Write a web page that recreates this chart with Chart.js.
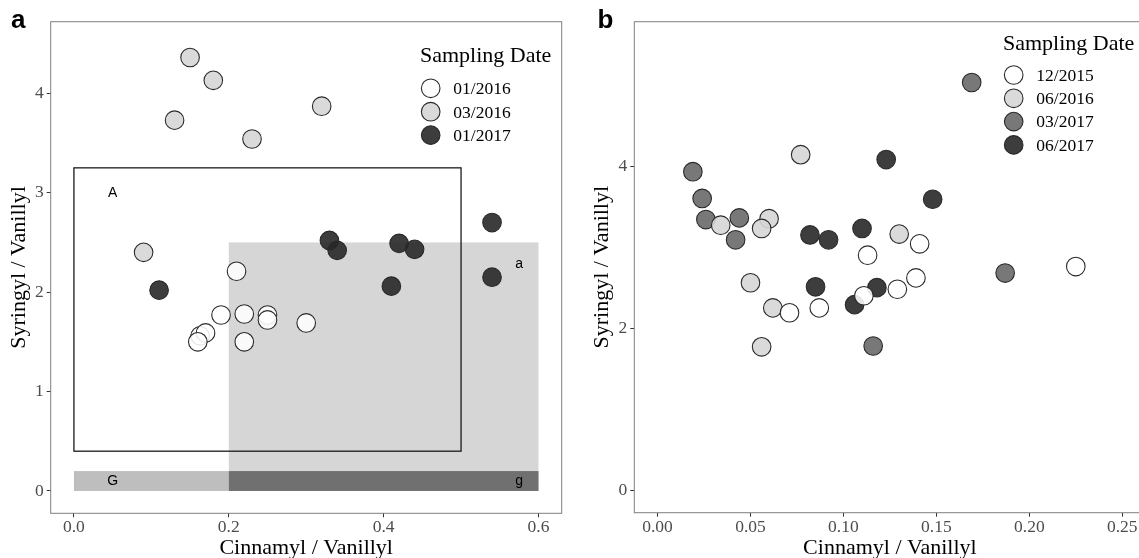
<!DOCTYPE html>
<html>
<head>
<meta charset="utf-8">
<script src="https://cdn.jsdelivr.net/npm/chart.js@4.4.0/dist/chart.umd.min.js"></script>
<style>
  html, body { margin: 0; padding: 0; background: #fff; overflow: hidden; width: 1139px; height: 558px; }
  #chartA { position: absolute; left: 0; top: 0; }
  #chartB { position: absolute; left: 575px; top: 0; }
</style>
</head>
<body>
<canvas id="chartA" width="575" height="558"></canvas>
<canvas id="chartB" width="590" height="558"></canvas>
<script>
// --- Data: panel a ---
const datesA = ['01/2016', '03/2016', '01/2017'];
const a_jan16_x = [0.21, 0.19, 0.22, 0.25, 0.25, 0.30, 0.163, 0.17, 0.16, 0.22];
const a_jan16_y = [2.21, 1.77, 1.78, 1.77, 1.72, 1.69, 1.56, 1.59, 1.50, 1.50];
const a_mar16_x = [0.15, 0.18, 0.13, 0.23, 0.32, 0.09];
const a_mar16_y = [4.36, 4.13, 3.73, 3.54, 3.87, 2.40];
const a_jan17_x = [0.33, 0.34, 0.42, 0.44, 0.54, 0.54, 0.41, 0.11];
const a_jan17_y = [2.52, 2.42, 2.49, 2.43, 2.70, 2.15, 2.06, 2.02];
const xTicksA = [0, 0.2, 0.4, 0.6];
const yTicksA = [0, 1, 2, 3, 4];

// annotation boxes of panel a (data units)
const boxOutlineA = [0, 0.5, 0.4, 3.25];      // x0, x1, y0, y1
const boxShadeA = [0.2, 0.6, 0, 2.5];
const stripLowA = [0, 0.2, 0, 0.2];
const stripHighA = [0.2, 0.6, 0, 0.2];
const labelTextA = ['A', 'a', 'G', 'g'];
const labelXA = [0.05, 0.575, 0.05, 0.575];
const labelYA = [3.0, 2.28, 0.1, 0.1];

// --- Data: panel b ---
const datesB = ['12/2015', '06/2016', '03/2017', '06/2017'];
const b_dec15_x = [0.113, 0.141, 0.225, 0.139, 0.129, 0.111, 0.071, 0.087];
const b_dec15_y = [2.90, 3.04, 2.76, 2.62, 2.48, 2.40, 2.19, 2.25];
const b_jun16_x = [0.077, 0.034, 0.060, 0.056, 0.130, 0.050, 0.062, 0.056];
const b_jun16_y = [4.14, 3.27, 3.35, 3.23, 3.16, 2.56, 2.25, 1.77];
const b_mar17_x = [0.169, 0.019, 0.024, 0.026, 0.044, 0.042, 0.187, 0.116];
const b_mar17_y = [5.03, 3.93, 3.60, 3.34, 3.36, 3.09, 2.68, 1.78];
const b_jun17_x = [0.123, 0.148, 0.082, 0.092, 0.110, 0.085, 0.118, 0.106];
const b_jun17_y = [4.08, 3.59, 3.15, 3.09, 3.23, 2.51, 2.50, 2.29];
const xTicksB = [0, 0.05, 0.10, 0.15, 0.20, 0.25];
const yTicksB = [0, 2, 4];

// --- Styles ---
const FILL_WHITE = 'rgba(255,255,255,0.88)';
const FILL_LIGHT = 'rgba(214,214,214,0.9)';
const FILL_MID = 'rgba(105,105,105,0.9)';
const FILL_DARK = 'rgba(40,40,40,0.9)';
const POINT_EDGE = '#2a2a2a';
const SERIF = '"Liberation Serif", "Times New Roman", serif';
const SANS = '"Liberation Sans", Arial, sans-serif';

function toPoints(xs, ys) {
    return xs.map((x, i) => ({ x: x, y: ys[i] }));
}

function series(label, xs, ys, fill) {
    return {
        label: label,
        data: toPoints(xs, ys),
        backgroundColor: fill,
        borderColor: POINT_EDGE,
        borderWidth: 1.1,
        pointRadius: 9.3,
        pointHoverRadius: 9.3
    };
}

function scaleCfg(min, max, tickValues, fmt, fixedSize, isX) {
    return {
        type: 'linear',
        min: min,
        max: max,
        afterBuildTicks: s => { s.ticks = tickValues.map(v => ({ value: v })); },
        afterFit: s => { if (isX) s.height = fixedSize; else s.width = fixedSize; },
        ticks: {
            callback: v => fmt(v),
            font: { family: SERIF, size: 17.5 },
            color: '#4d4d4d',
            padding: isX ? 0 : 3,
            maxRotation: 0,
            autoSkip: false
        },
        grid: { display: true, drawOnChartArea: false, drawTicks: true, tickLength: 4, color: '#333', lineWidth: 1 },
        border: { display: false }
    };
}

// Draws boxes, text, legend and axis titles for one panel
function panelPlugin(p) {
    return {
        id: 'panel_' + p.tag,
        beforeDatasetsDraw(chart) {
            if (!p.annotate) return;
            const ctx = chart.ctx, xs = chart.scales.x, ys = chart.scales.y;
            const rect = (b) => {
                const x0 = xs.getPixelForValue(b[0]), x1 = xs.getPixelForValue(b[1]);
                const y0 = ys.getPixelForValue(b[2]), y1 = ys.getPixelForValue(b[3]);
                return [x0, y1, x1 - x0, y0 - y1];
            };
            ctx.save();
            ctx.fillStyle = '#d6d6d6';
            ctx.fillRect(...rect(boxShadeA));
            ctx.fillStyle = '#bebebe';
            ctx.fillRect(...rect(stripLowA));
            ctx.fillStyle = '#707070';
            ctx.fillRect(...rect(stripHighA));
            ctx.strokeStyle = '#1a1a1a';
            ctx.lineWidth = 1.3;
            ctx.strokeRect(...rect(boxOutlineA));
            ctx.fillStyle = '#000';
            ctx.font = '14px ' + SANS;
            ctx.textAlign = 'center';
            ctx.textBaseline = 'middle';
            labelTextA.forEach((t, i) => {
                ctx.fillText(t, xs.getPixelForValue(labelXA[i]), ys.getPixelForValue(labelYA[i]));
            });
            ctx.restore();
        },
        afterDraw(chart) {
            const ctx = chart.ctx, area = chart.chartArea;
            ctx.save();
            // panel border
            ctx.strokeStyle = '#7f7f7f';
            ctx.lineWidth = 1;
            ctx.strokeRect(area.left, area.top, area.right - area.left, area.bottom - area.top);

            // panel letter
            ctx.fillStyle = '#000';
            ctx.font = 'bold 26px ' + SANS;
            ctx.textAlign = 'left';
            ctx.textBaseline = 'alphabetic';
            ctx.fillText(p.tag, p.tagX, 28);

            // axis titles
            ctx.font = '22px ' + SERIF;
            ctx.textAlign = 'center';
            ctx.fillText('Cinnamyl / Vanillyl', (area.left + area.right) / 2, 553.5);
            ctx.save();
            ctx.translate(area.left - 26.2, (area.top + area.bottom) / 2);
            ctx.rotate(-Math.PI / 2);
            ctx.fillText('Syringyl / Vanillyl', 0, 0);
            ctx.restore();

            // legend
            ctx.textAlign = 'left';
            ctx.font = '22px ' + SERIF;
            ctx.fillText('Sampling Date', p.legX, p.legTitleY);
            ctx.font = '17.5px ' + SERIF;
            chart.data.datasets.forEach((ds, i) => {
                const cy = p.legY0 + i * p.legStep;
                ctx.beginPath();
                ctx.arc(p.legX + 10.7, cy, 9.3, 0, Math.PI * 2);
                ctx.fillStyle = ds.backgroundColor;
                ctx.fill();
                ctx.lineWidth = 1.1;
                ctx.strokeStyle = POINT_EDGE;
                ctx.stroke();
                ctx.fillStyle = '#000';
                ctx.fillText(ds.label, p.legX + 33.3, cy + 5.8);
            });
            ctx.restore();
        }
    };
}

const baseOptions = {
    responsive: false,
    animation: false,
    events: [],
    plugins: { legend: { display: false }, tooltip: { enabled: false } }
};

new Chart(document.getElementById('chartA'), {
    type: 'scatter',
    data: {
        datasets: [
            series(datesA[0], a_jan16_x, a_jan16_y, FILL_WHITE),
            series(datesA[1], a_mar16_x, a_mar16_y, FILL_LIGHT),
            series(datesA[2], a_jan17_x, a_jan17_y, FILL_DARK)
        ]
    },
    options: {
        ...baseOptions,
        layout: { padding: { top: 21.7, right: 13.3, left: 0, bottom: 0 } },
        scales: {
            x: scaleCfg(-0.03, 0.63, xTicksA, v => v.toFixed(1), 44.7, true),
            y: scaleCfg(-0.2247, 4.72, yTicksA, v => String(v), 50.7, false)
        }
    },
    plugins: [panelPlugin({ tag: 'a', tagX: 11, annotate: true, legX: 420, legTitleY: 61.5, legY0: 88.3, legStep: 23.4 })]
});

new Chart(document.getElementById('chartB'), {
    type: 'scatter',
    data: {
        datasets: [
            series(datesB[0], b_dec15_x, b_dec15_y, FILL_WHITE),
            series(datesB[1], b_jun16_x, b_jun16_y, FILL_LIGHT),
            series(datesB[2], b_mar17_x, b_mar17_y, FILL_MID),
            series(datesB[3], b_jun17_x, b_jun17_y, FILL_DARK)
        ]
    },
    options: {
        ...baseOptions,
        layout: { padding: { top: 21.7, right: 19.5, left: 0, bottom: 0 } },
        scales: {
            x: scaleCfg(-0.0125, 0.2625, xTicksB, v => v.toFixed(2), 45.3, true),
            y: scaleCfg(-0.276, 5.78, yTicksB, v => String(v), 59.3, false)
        }
    },
    plugins: [panelPlugin({ tag: 'b', tagX: 22.5, annotate: false, legX: 428, legTitleY: 50, legY0: 75, legStep: 23.3 })]
});
</script>
</body>
</html>
